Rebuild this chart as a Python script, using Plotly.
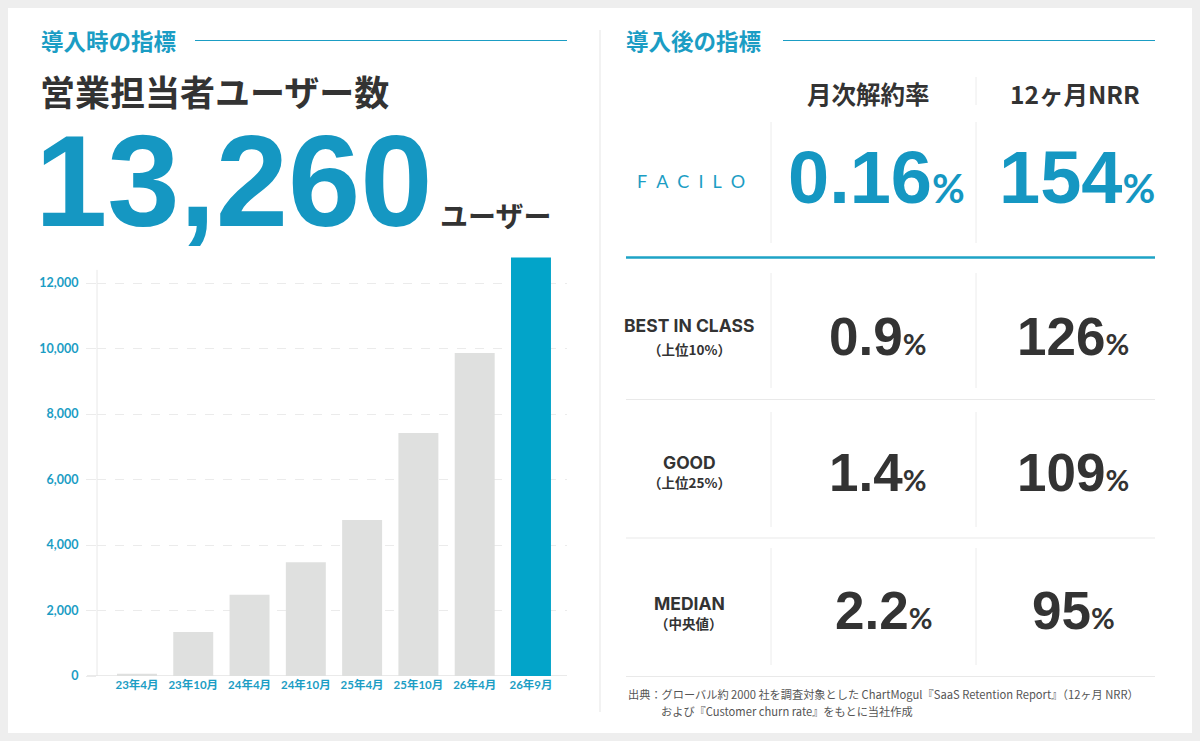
import plotly.graph_objects as go

# ---------------- data ----------------
categories = ["23年4月", "23年10月", "24年4月", "24年10月", "25年4月", "25年10月", "26年4月", "26年9月"]
users = [70, 1340, 2480, 3470, 4760, 7420, 9860, 12780]
y_tick_values = [0, 2000, 4000, 6000, 8000, 10000, 12000]
y_tick_labels = ["0", "2,000", "4,000", "6,000", "8,000", "10,000", "12,000"]
total_users = "13,260"

metric_columns = ["月次解約率", "12ヶ月NRR"]
facilo_values = ["0.16", "154"]
benchmark_labels = ["BEST IN CLASS", "GOOD", "MEDIAN"]
benchmark_subs = ["（上位10%）", "（上位25%）", "（中央値）"]
benchmark_churn = ["0.9", "1.4", "2.2"]
benchmark_nrr = ["126", "109", "95"]

source_line1 = "出典：グローバル約 2000 社を調査対象とした ChartMogul『SaaS Retention Report』（12ヶ月 NRR）"
source_line2 = "および『Customer churn rate』をもとに当社作成"

# ---------------- style ----------------
W, H = 1200, 741          # design coordinate space (reference pixels)
FIG_H = 748               # rendered height (viewport compensation)
TEAL = "#1b9dc4"
BIG_TEAL = "#1597c2"
BLUE_BAR = "#02a4c9"
GRAY_BAR = "#dfe0df"
DARK = "#333333"
JP = "Noto Sans CJK JP"
NUM = "Liberation Sans, Arial, sans-serif"
GEO = "Lato, Noto Sans CJK JP, sans-serif"
WIDE = "Inter, Lato, sans-serif"


def X(px):
    return px / W


def Y(py):
    return 1 - py / H


fig = go.Figure()

bar_colors = [GRAY_BAR] * (len(categories) - 1) + [BLUE_BAR]
fig.add_trace(go.Bar(
    x=categories, y=users, marker=dict(color=bar_colors, line=dict(width=0)),
    hoverinfo="x+y", cliponaxis=False,
))

shapes = []
annotations = []

# card background
shapes.append(dict(type="rect", xref="paper", yref="paper", x0=X(8), x1=X(1192), y0=Y(733), y1=Y(8),
                   fillcolor="white", line=dict(width=0), layer="below"))
# section divider
shapes.append(dict(type="line", xref="paper", yref="paper", x0=X(600), x1=X(600), y0=Y(30), y1=Y(712),
                   line=dict(color="#e9e9e9", width=1.2), layer="below"))
# section title lines
shapes.append(dict(type="line", xref="paper", yref="paper", x0=X(195), x1=X(567), y0=Y(40.5), y1=Y(40.5),
                   line=dict(color=TEAL, width=1.2)))
shapes.append(dict(type="line", xref="paper", yref="paper", x0=X(783), x1=X(1155), y0=Y(40.5), y1=Y(40.5),
                   line=dict(color=TEAL, width=1.2)))
# chart y axis line and zero line
shapes.append(dict(type="line", xref="paper", yref="y", x0=X(97), x1=X(97), y0=0, y1=12400,
                   line=dict(color="#e8e8e8", width=1), layer="below"))
shapes.append(dict(type="line", xref="paper", yref="y", x0=X(87), x1=X(567), y0=0, y1=0,
                   line=dict(color="#e3e3e3", width=1.5), layer="below"))

# table lines
shapes.append(dict(type="line", xref="paper", yref="paper", x0=X(976), x1=X(976), y0=Y(77), y1=Y(105),
                   line=dict(color="#ececec", width=1)))
for (ya, yb) in [(122, 243), (273, 388), (412, 527), (548, 665)]:
    for xv in (771, 976):
        shapes.append(dict(type="line", xref="paper", yref="paper", x0=X(xv), x1=X(xv), y0=Y(ya), y1=Y(yb),
                           line=dict(color="#ececec", width=1)))
shapes.append(dict(type="line", xref="paper", yref="paper", x0=X(626), x1=X(1155), y0=Y(257.5), y1=Y(257.5),
                   line=dict(color="#1ea3c6", width=2.5)))
for yv in (399.5, 538, 676.5):
    shapes.append(dict(type="line", xref="paper", yref="paper", x0=X(626), x1=X(1155), y0=Y(yv), y1=Y(yv),
                       line=dict(color="#e9e9e9", width=1.2)))


def ann(text, x, y, size, color, family, xanchor="center", weight="normal", **kw):
    d = dict(text=text, x=X(x), y=Y(y), xref="paper", yref="paper", showarrow=False,
             xanchor=xanchor, yanchor="middle",
             font=dict(size=size, color=color, family=family, weight=weight))
    d.update(kw)
    annotations.append(d)


# left section
ann("導入時の指標", 39, 40, 22.5, TEAL, JP, "left", "bold")
ann("営業担当者ユーザー数", 38, 90, 35, DARK, JP, "left", "bold")
ann(total_users, 33, 256, 130, BIG_TEAL, NUM, "left", "bold",
    yanchor="bottom", height=124, valign="bottom")
ann("ユーザー", 438, 215, 28, DARK, JP, "left", "bold")

# right section
ann("導入後の指標", 624, 40, 22.5, TEAL, JP, "left", "bold")
col_x = [868, 1075]
for cx, name in zip(col_x, metric_columns):
    ann(name, cx, 94, 24.5, DARK, JP, "center", "bold")

ann("F&#8194;A&#8194;C&#8194;I&#8194;L&#8194;O", 691, 181, 18, TEAL, "Lato, sans-serif", "center", 400)

val_x = [876, 1077]
for cx, v in zip(val_x, facilo_values):
    ann(f"{v}<span style='font-size:40px; font-family:Lato'>%</span>", cx, 177, 74, BIG_TEAL, NUM, "center", "bold")

row_y = [336, 472, 610]
label_y = [(325, 349), (462, 482), (603, 623)]
for i in range(3):
    ann(benchmark_labels[i], 689, label_y[i][0], 17.5, DARK, WIDE, "center", "bold")
    ann(benchmark_subs[i], 689, label_y[i][1], 13.5, DARK, JP, "center", "bold")
    ann(f"{benchmark_churn[i]}<span style='font-size:29px; font-family:Lato'>%</span>",
        877 + (6 if i == 2 else 0), row_y[i], 53, DARK, NUM, "center", "bold")
    ann(f"{benchmark_nrr[i]}<span style='font-size:29px; font-family:Lato'>%</span>",
        1073, row_y[i], 53, DARK, NUM, "center", "bold")

ann(source_line1, 626, 694, 11.2, "#555555", JP, "left")
ann(source_line2, 659, 711, 11.2, "#555555", JP, "left")

fig.update_layout(
    width=W, height=FIG_H, margin=dict(l=0, r=0, t=0, b=0),
    paper_bgcolor="#eeeeee", plot_bgcolor="rgba(0,0,0,0)",
    showlegend=False, bargap=0.29,
    shapes=shapes, annotations=annotations,
    xaxis=dict(domain=[X(97), X(567)], range=[-0.71, 7.64], type="category",
               showgrid=False, showline=False, zeroline=False, ticks="",
               tickfont=dict(size=11.5, color=TEAL, family=GEO, weight="bold"), fixedrange=True),
    yaxis=dict(domain=[Y(676), Y(243.7)], range=[0, 13200], tickvals=y_tick_values, ticktext=y_tick_labels,
               showgrid=True, gridcolor="#ebebeb", griddash="dash", gridwidth=1,
               zeroline=False, showline=False, ticks="outside", ticklen=10, tickcolor="#ebebeb",
               ticklabelstandoff=5,
               tickfont=dict(size=12.5, color=TEAL, family=GEO, weight="bold"), fixedrange=True),
)

fig.write_html("out.html", config={"displayModeBar": False},
               post_script="document.body.style.margin='0';document.body.style.overflow='hidden';")
